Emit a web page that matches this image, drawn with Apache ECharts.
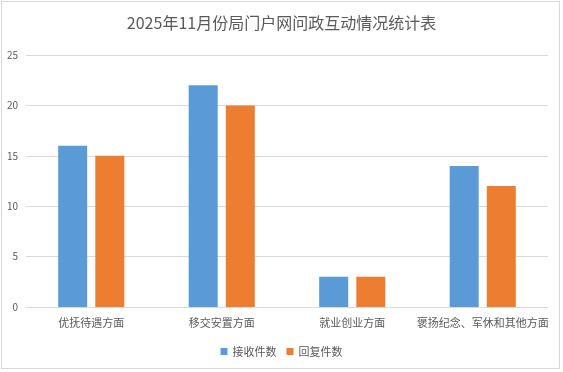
<!DOCTYPE html>
<html><head><meta charset="utf-8">
<script src="https://cdn.jsdelivr.net/npm/echarts@6/dist/echarts.min.js"></script>
<style>
html,body{margin:0;padding:0;background:#fff;}
#wrap{position:absolute;left:1px;top:1px;width:557px;height:366px;border:1px solid #d9d9d9;}
#c{position:absolute;left:-2px;top:-2px;width:563px;height:372px;}
</style></head>
<body><div id="wrap"><div id="c"></div></div>
<script>
const title = '2025年11月份局门户网问政互动情况统计表';
const categories = ['优抚待遇方面','移交安置方面','就业创业方面','褒扬纪念、军休和其他方面'];
const received = [16, 22, 3, 14];
const replied = [15, 20, 3, 12];
const seriesNames = ['接收件数','回复件数'];
const font = '"Noto Sans CJK SC", sans-serif';
const chart = echarts.init(document.getElementById('c'));
chart.setOption({
  animation:false,
  title:{text:title,left:'center',top:10,textStyle:{fontFamily:font,fontSize:16,fontWeight:'normal',color:'#595959'}},
  legend:{bottom:10,left:'center',itemWidth:7,itemHeight:7,itemGap:10,icon:'rect',
    textStyle:{fontFamily:font,fontSize:11,color:'#595959'},data:seriesNames},
  grid:{left:26,right:15,top:55,bottom:65},
  xAxis:{type:'category',data:categories,axisTick:{show:false},
    axisLine:{lineStyle:{color:'#d9d9d9'}},
    axisLabel:{fontFamily:font,fontSize:11,color:'#595959',margin:10,interval:0}},
  yAxis:{type:'value',min:0,max:25,interval:5,
    axisLabel:{fontFamily:font,fontSize:10,color:'#595959',margin:8},
    splitLine:{lineStyle:{color:'#d9d9d9'}}},
  series:[
    {name:seriesNames[0],type:'bar',data:received,barWidth:29,barGap:'28%',itemStyle:{color:'#5B9BD5'}},
    {name:seriesNames[1],type:'bar',data:replied,barWidth:29,itemStyle:{color:'#ED7D31'}}
  ]
});
</script></body></html>
